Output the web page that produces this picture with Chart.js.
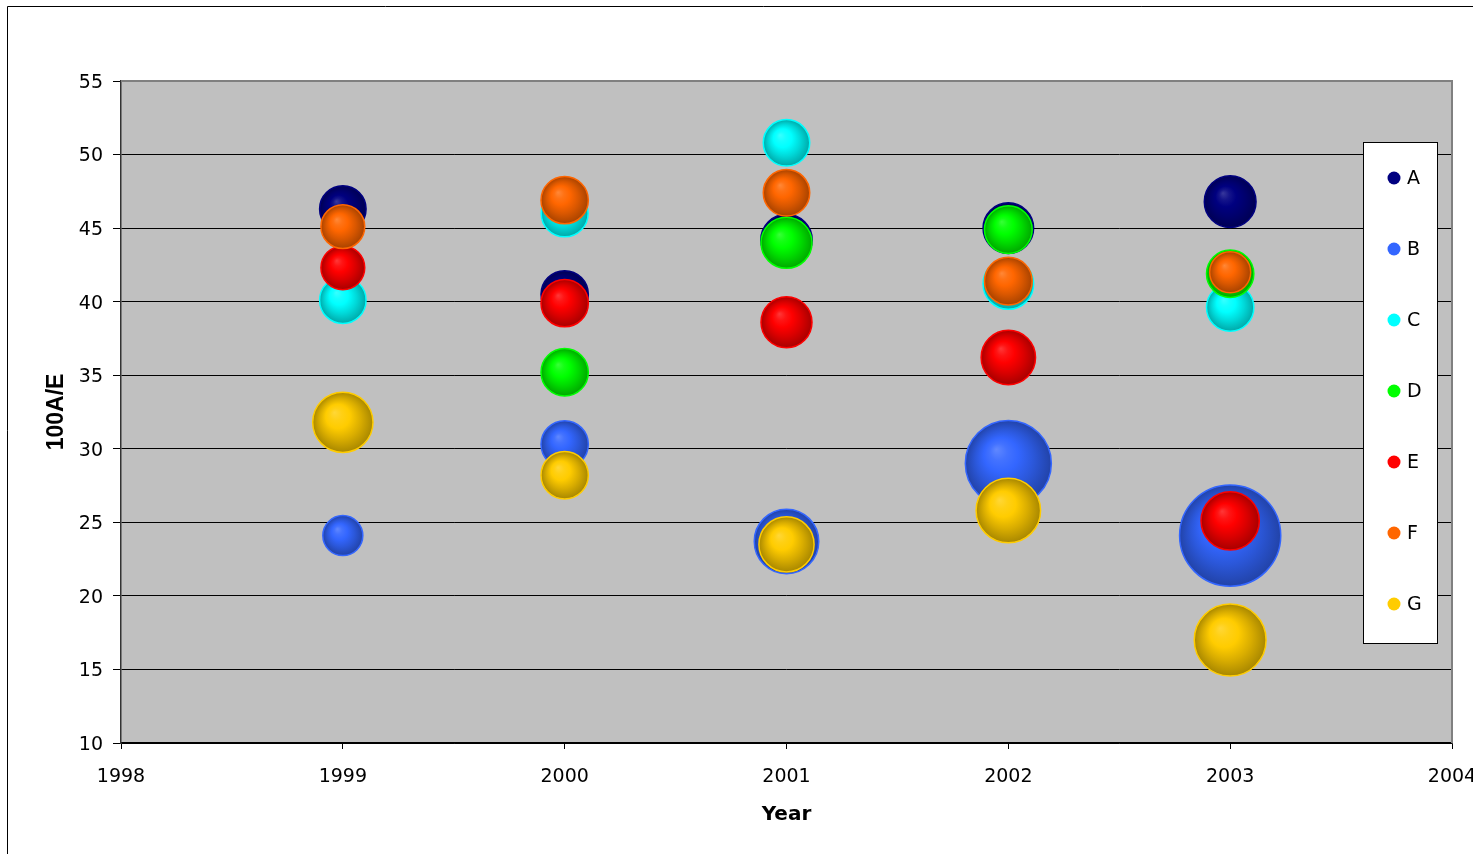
<!DOCTYPE html>
<html>
<head>
<meta charset="utf-8">
<title>100A/E by Year</title>
<script src="https://cdn.jsdelivr.net/npm/chart.js@4.4.1/dist/chart.umd.min.js"></script>
<style>
  html, body { margin: 0; padding: 0; background: #ffffff; overflow: hidden; }
  #wrap { width: 1473px; height: 854px; position: relative; overflow: hidden; }
  #chart { display: block; }
</style>
</head>
<body>
<div id="wrap"><canvas id="chart" width="1520" height="854"></canvas></div>
<script>
// ---- data ----
const years = [1999, 2000, 2001, 2002, 2003];
const xTickLabels = ['1998', '1999', '2000', '2001', '2002', '2003', '2004'];
const seriesNames = ['A', 'B', 'C', 'D', 'E', 'F', 'G'];

// 100A/E per year
const valuesA = [46.3, 40.5, 44.2, 45.0, 46.8];
const valuesB = [24.1, 30.3, 23.7, 29.0, 24.1];
const valuesC = [40.1, 46.0, 50.8, 41.2, 39.6];
const valuesD = [null, 35.2, 44.0, 44.9, 41.9];
const valuesE = [42.3, 39.9, 38.6, 36.2, 25.1];
const valuesF = [45.1, 46.9, 47.4, 41.4, 42.0];
const valuesG = [31.8, 28.2, 23.5, 25.8, 17.0];

// bubble weights (area-proportional)
const weightsA = [5.4, 5.6, 6.6, 6.4, 6.7];
const weightsB = [4.0, 5.6, 10.4, 18.5, 25.6];
const weightsC = [5.4, 5.5, 5.4, 6.4, 5.6];
const weightsD = [null, 5.6, 6.5, 5.7, 5.6];
const weightsE = [4.8, 5.6, 6.5, 7.4, 8.5];
const weightsF = [4.8, 5.6, 5.4, 5.7, 4.2];
const weightsG = [9.1, 5.6, 7.6, 10.4, 12.9];

const seriesValues = [valuesA, valuesB, valuesC, valuesD, valuesE, valuesF, valuesG];
const seriesWeights = [weightsA, weightsB, weightsC, weightsD, weightsE, weightsF, weightsG];

// ---- styles ----
const seriesColors = ['#000080', '#3366FF', '#00FFFF', '#00FF00', '#FF0000', '#FF6600', '#FFCC00'];
const MAX_RADIUS = 50.6;
const PLOT_RIGHT = 1452;

const maxWeight = Math.max(...seriesWeights.flat().filter(v => v != null));
function radiusFor(w) {
  return MAX_RADIUS * Math.sqrt(w / maxWeight);
}

function hexToRgb(hex) {
  const n = parseInt(hex.slice(1), 16);
  return [(n >> 16) & 255, (n >> 8) & 255, n & 255];
}
function mix(hex, target, t) {
  const c = hexToRgb(hex);
  const m = c.map((v, i) => Math.round(v + (target[i] - v) * t));
  return `rgb(${m[0]},${m[1]},${m[2]})`;
}
const lighten = (hex, t) => mix(hex, [255, 255, 255], t);
const darken = (hex, t) => mix(hex, [0, 0, 0], t);

// shaded sphere look for each bubble
function sphereFill(base) {
  return function (ctx) {
    const chart = ctx.chart;
    if (ctx.type !== 'data' || !chart.chartArea || !ctx.raw) return base;
    const x = chart.scales.x.getPixelForValue(ctx.raw.x);
    const y = chart.scales.y.getPixelForValue(ctx.raw.y);
    const r = ctx.raw.r;
    const g = chart.ctx.createRadialGradient(x - r * 0.28, y - r * 0.33, 0, x, y, r);
    g.addColorStop(0, lighten(base, 0.22));
    g.addColorStop(0.2, lighten(base, 0.08));
    g.addColorStop(0.4, base);
    g.addColorStop(0.68, darken(base, 0.15));
    g.addColorStop(1, darken(base, 0.34));
    return g;
  };
}

const datasets = seriesNames.map((name, s) => ({
  label: name,
  data: years
    .map((yr, i) => (seriesValues[s][i] == null ? null
      : { x: yr, y: seriesValues[s][i], r: radiusFor(seriesWeights[s][i]) }))
    .filter(p => p !== null),
  backgroundColor: sphereFill(seriesColors[s]),
  borderColor: seriesColors[s],
  borderWidth: 1.5,
  hoverBorderWidth: 1.5,
  // later series are painted over earlier ones
  order: seriesNames.length - 1 - s,
  legendColor: seriesColors[s]
}));

// gray plot area with its top and right edge
const plotBackground = {
  id: 'plotBackground',
  beforeDraw(chart) {
    const { ctx, chartArea: a } = chart;
    ctx.save();
    ctx.fillStyle = '#C0C0C0';
    ctx.fillRect(a.left, a.top, a.right - a.left, a.bottom - a.top);
    ctx.restore();
  },
  beforeDatasetsDraw(chart) {
    const { ctx, chartArea: a } = chart;
    ctx.save();
    ctx.strokeStyle = '#808080';
    ctx.lineWidth = 2;
    ctx.beginPath();
    ctx.moveTo(a.left, a.top);
    ctx.lineTo(a.right, a.top);
    ctx.lineTo(a.right, a.bottom);
    ctx.stroke();
    ctx.restore();
  }
};

// outer frame of the chart object
const outerFrame = {
  id: 'outerFrame',
  afterDraw(chart) {
    const ctx = chart.ctx;
    ctx.save();
    ctx.strokeStyle = '#000000';
    ctx.lineWidth = 1;
    ctx.beginPath();
    ctx.moveTo(7.5, chart.height);
    ctx.lineTo(7.5, 6.5);
    ctx.lineTo(chart.width, 6.5);
    ctx.stroke();
    ctx.restore();
  }
};

// boxed legend sitting on the right of the plot
const boxedLegend = {
  id: 'boxedLegend',
  afterDatasetsDraw(chart) {
    const ctx = chart.ctx;
    const box = { left: 1363, top: 142, width: 74, height: 501 };
    ctx.save();
    ctx.fillStyle = '#FFFFFF';
    ctx.fillRect(box.left, box.top, box.width, box.height);
    ctx.strokeStyle = '#000000';
    ctx.lineWidth = 1;
    ctx.strokeRect(box.left + 0.5, box.top + 0.5, box.width, box.height);
    const ds = chart.data.datasets;
    const step = 71;
    ctx.font = '19px "DejaVu Sans"';
    ctx.textBaseline = 'middle';
    ctx.textAlign = 'left';
    ds.forEach((d, i) => {
      const cy = box.top + 36 + i * step;
      ctx.fillStyle = d.legendColor;
      ctx.beginPath();
      ctx.arc(box.left + 31, cy, 6.5, 0, Math.PI * 2);
      ctx.fill();
      ctx.fillStyle = '#000000';
      ctx.fillText(d.label, box.left + 44, cy + 1);
    });
    ctx.restore();
  }
};

Chart.defaults.font.family = '"DejaVu Sans", Verdana, sans-serif';
Chart.defaults.font.size = 19;
Chart.defaults.color = '#000000';

const canvas = document.getElementById('chart');

new Chart(canvas, {
  type: 'bubble',
  data: { datasets },
  options: {
    responsive: false,
    animation: false,
    events: [],
    layout: { padding: { top: 81, right: canvas.width - PLOT_RIGHT, left: 0, bottom: 0 } },
    plugins: {
      legend: { display: false },
      tooltip: { enabled: false }
    },
    scales: {
      x: {
        type: 'linear',
        min: 1998,
        max: 2004,
        ticks: {
          stepSize: 1,
          padding: 17,
          maxRotation: 0,
          autoSkip: false,
          callback: (v) => xTickLabels[Math.round(v - 1998)] ?? ''
        },
        grid: {
          drawOnChartArea: false,
          drawTicks: true,
          tickLength: 6,
          color: '#000000',
          lineWidth: 1
        },
        border: { display: true, color: '#000000', width: 1.5 },
        title: {
          display: true,
          text: 'Year',
          font: { family: '"DejaVu Sans", Verdana, sans-serif', size: 20, weight: 'bold' },
          padding: { top: 0, bottom: 27 }
        },
        afterFit(scale) {
          scale.height = 111;
        }
      },
      y: {
        min: 10,
        max: 55,
        ticks: { stepSize: 5, padding: 10, labelOffset: 2 },
        grid: {
          drawTicks: true,
          tickLength: 8,
          color: (ctx) => (ctx.tick && ctx.tick.value === 55 ? 'rgba(0,0,0,0)' : '#000000'),
          tickColor: '#000000',
          lineWidth: 1
        },
        border: { display: true, color: '#333333', width: 1.5 },
        title: {
          display: true,
          text: '100A/E',
          font: { family: '"Liberation Sans", Arial, sans-serif', size: 23, weight: 'bold' },
          padding: { top: 43, bottom: 0 }
        },
        afterFit(scale) {
          scale.width = 121;
        }
      }
    }
  },
  plugins: [plotBackground, outerFrame, boxedLegend]
});
</script>
</body>
</html>
